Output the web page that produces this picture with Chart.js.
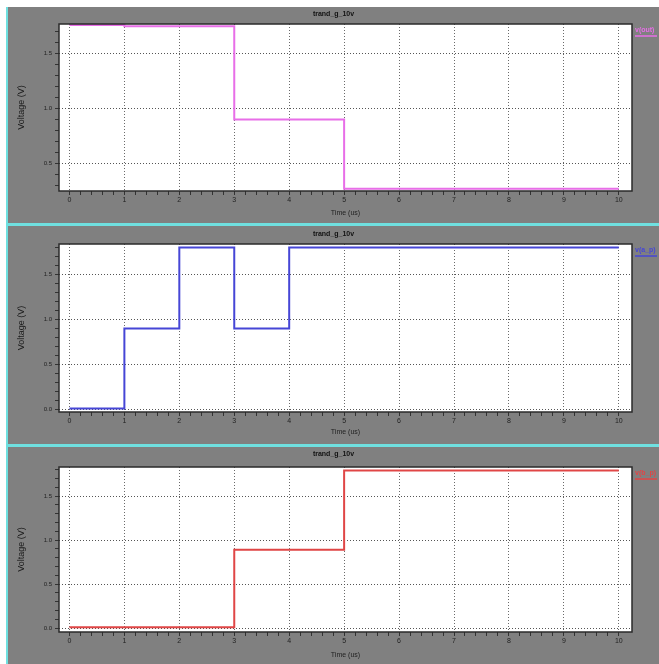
<!DOCTYPE html>
<html>
<head>
<meta charset="utf-8">
<script src="https://cdn.jsdelivr.net/npm/chart.js@4.4.1/dist/chart.umd.min.js"></script>
<style>
  body { margin: 0; background: #fff; width: 659px; height: 664px; overflow: hidden; }
  #frame { position: absolute; left: 6px; top: 7px; width: 653px; height: 657px; background: #808080; border-left: 2px solid #6fe0e0; box-sizing: border-box; }
  .sep { position: absolute; left: 6px; width: 653px; height: 3px; background: #6fe0e0; }
  .panel { position: absolute; left: 8px; width: 651px; }
</style>
</head>
<body>
<div id="frame"></div>
<div class="sep" style="top:223px"></div>
<div class="sep" style="top:444px"></div>
<div class="panel" style="top:7px;height:216px"><canvas id="c1"></canvas></div>
<div class="panel" style="top:226px;height:218px"><canvas id="c2"></canvas></div>
<div class="panel" style="top:447px;height:217px"><canvas id="c3"></canvas></div>
<script>
// switching times (us) and node voltages (V)
const times = [0, 1, 2, 3, 4, 5, 10];
const outVolts = [1.76, 1.75, 1.75, 0.90, 0.90, 0.27, 0.27];
const aVolts = [0.01, 0.90, 1.80, 0.90, 1.80, 1.80, 1.80];
const bVolts = [0.01, 0.01, 0.01, 0.89, 0.89, 1.79, 1.79];

const xMajorTicks = [0, 1, 2, 3, 4, 5, 6, 7, 8, 9, 10];
const yMajorTicks = [0.0, 0.5, 1.0, 1.5];
const seriesNames = ['v(out)', 'v(a_p)', 'v(b_p)'];
const chartTitle = 'trand_g_10v';

const isMajor = (list, v) => list.some(t => Math.abs(t - v) < 1e-6);

// white plot box, frame and the series label on the right
const plotBox = {
  id: 'plotBox',
  beforeDraw(chart) {
    const a = chart.chartArea, ctx = chart.ctx;
    ctx.save();
    ctx.fillStyle = '#fff';
    ctx.fillRect(a.left, a.top, a.right - a.left, a.bottom - a.top);
    ctx.restore();
  },
  afterDraw(chart) {
    const a = chart.chartArea, ctx = chart.ctx;
    const ds = chart.data.datasets[0];
    ctx.save();
    ctx.strokeStyle = '#2a2a2a';
    ctx.lineWidth = 1.5;
    ctx.strokeRect(a.left, a.top, a.right - a.left, a.bottom - a.top);
    ctx.fillStyle = ds.borderColor;
    ctx.font = 'bold 7px "Liberation Sans"';
    ctx.textBaseline = 'middle';
    ctx.fillText(ds.label, a.right + 3, a.top + 6);
    ctx.strokeStyle = ds.borderColor;
    ctx.lineWidth = 1.5;
    ctx.beginPath();
    ctx.moveTo(a.right + 3, a.top + 12);
    ctx.lineTo(chart.width - 2, a.top + 12);
    ctx.stroke();
    ctx.restore();
  }
};

function makeChart(id, name, values, color, yMin, yMax, titlePad, xTitlePad) {
  return new Chart(document.getElementById(id), {
    type: 'line',
    data: {
      datasets: [{
        label: name,
        data: times.map((t, i) => ({ x: t, y: values[i] })),
        borderColor: color,
        borderWidth: 2,
        stepped: 'before',
        pointRadius: 0,
        fill: false
      }]
    },
    plugins: [plotBox],
    options: {
      responsive: true,
      maintainAspectRatio: false,
      animation: false,
      layout: { padding: 0 },
      plugins: {
        legend: { display: false },
        tooltip: { enabled: false },
        title: {
          display: true,
          text: chartTitle,
          color: '#111',
          font: { family: 'Liberation Sans', size: 7, weight: 'bold' },
          padding: titlePad
        }
      },
      scales: {
        x: {
          type: 'linear',
          min: -0.19,
          max: 10.24,
          afterBuildTicks: s => {
            const t = [];
            for (let i = 0; i <= 50; i++) t.push({ value: i / 5 });
            s.ticks = t;
          },
          afterFit: s => { s.height = 32; },
          ticks: {
            autoSkip: false,
            maxRotation: 0,
            padding: 1,
            color: '#222',
            font: { family: 'Liberation Sans', size: 7 },
            callback: v => isMajor(xMajorTicks, v) ? String(Math.round(v)) : ''
          },
          grid: {
            color: c => c.tick && isMajor(xMajorTicks, c.tick.value) ? '#6a6a6a' : 'rgba(0,0,0,0)',
            tickColor: '#333',
            tickLength: 4,
            lineWidth: 1
          },
          border: { display: false, dash: [1, 2] },
          title: {
            display: true,
            text: 'Time (us)',
            color: '#222',
            font: { family: 'Liberation Sans', size: 7 },
            padding: { top: 0, bottom: xTitlePad }
          }
        },
        y: {
          type: 'linear',
          min: yMin,
          max: yMax,
          afterBuildTicks: s => {
            const t = [];
            for (let i = Math.ceil(yMin * 10); i <= Math.floor(yMax * 10); i++) t.push({ value: i / 10 });
            s.ticks = t;
          },
          afterFit: s => { s.width = 51; },
          ticks: {
            autoSkip: false,
            padding: 3,
            color: '#222',
            font: { family: 'Liberation Sans', size: 6 },
            callback: v => isMajor(yMajorTicks, v) ? v.toFixed(1) : ''
          },
          grid: {
            color: c => c.tick && isMajor(yMajorTicks, c.tick.value) ? '#555' : 'rgba(0,0,0,0)',
            tickColor: '#333',
            tickLength: 4,
            lineWidth: 1
          },
          border: { display: false, dash: [1, 2] },
          title: {
            display: true,
            text: 'Voltage (V)',
            color: '#1a1a1a',
            font: { family: 'Liberation Sans', size: 9 },
            padding: { top: 8, bottom: 0 }
          }
        },
        // empty gutter on the right that holds the series label
        gutter: {
          type: 'linear',
          position: 'right',
          display: true,
          afterFit: s => { s.width = 27; },
          ticks: { display: false },
          grid: { display: false, drawOnChartArea: false },
          border: { display: false }
        }
      }
    }
  });
}

makeChart('c1', seriesNames[0], outVolts, '#e86ee8', 0.25, 1.77, { top: 3, bottom: 5.6 }, 6);
makeChart('c2', seriesNames[1], aVolts, '#4646d6', -0.03, 1.84, { top: 4, bottom: 5.6 }, 8);
makeChart('c3', seriesNames[2], bVolts, '#e04646', -0.045, 1.83, { top: 3, bottom: 8.6 }, 5);
</script>
</body>
</html>
